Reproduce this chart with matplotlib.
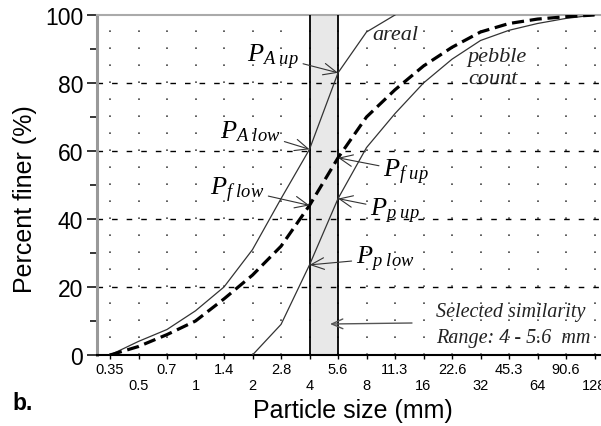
import numpy as np
import matplotlib
matplotlib.use("Agg")
import matplotlib.pyplot as plt

# Sieve sizes (mm) and their tick labels
sizes = [0.354, 0.5, 0.707, 1, 1.414, 2, 2.83, 4, 5.66, 8, 11.31, 16,
         22.63, 32, 45.25, 64, 90.51, 128]
size_labels = ["0.35", "0.5", "0.7", "1", "1.4", "2", "2.8", "4", "5.6", "8",
               "11.3", "16", "22.6", "32", "45.3", "64", "90.6", "128"]

# Areal sample (thin line)
areal_x = [0.354, 0.5, 0.707, 1, 1.414, 2, 2.83, 4, 5.66, 8, 11.31]
areal_y = [0, 4, 7.5, 13, 20, 31, 46, 60.5, 83, 95, 100]

# Combined / converted curve (thick dashed)
fine_x = sizes
fine_y = [0, 2.5, 6, 10, 16.5, 23.5, 32, 44, 58, 70, 78, 85, 90.5, 95,
          97.5, 98.8, 99.5, 100]

# Pebble count (thin line)
pebble_x = [2, 2.83, 4, 5.66, 8, 11.31, 16, 22.63, 32, 45.25, 64, 90.51, 128]
pebble_y = [0, 9, 26.5, 46, 61, 71, 80, 87, 92.5, 95.5, 97.5, 99, 100]

# Similarity range and reference levels
band = [4, 5.66]
hgrid_levels = [20, 40, 60, 80]


def px2x(px):
    # pixel column -> particle size on the log2 axis
    return 2 ** ((px - 110) / 57.0 - 1.5)


def px2y(py):
    return (356 - py) / 3.4


plt.rcParams["font.family"] = ["Liberation Sans", "DejaVu Sans"]
plt.rcParams["mathtext.fontset"] = "custom"
plt.rcParams["mathtext.it"] = "Liberation Serif:italic"
plt.rcParams["mathtext.rm"] = "Liberation Serif"

fig = plt.figure(figsize=(6.01, 4.27), dpi=100)
ax = fig.add_axes([97 / 601, 1 - 356 / 427, 1 - 97 / 601, 340 / 427])
ax.set_xscale("log", base=2)
ax.set_xlim(px2x(97), px2x(601))
ax.set_ylim(0, 100)

# Grey similarity band
ax.axvspan(band[0], band[1], color="#e8e8e8", zorder=0.5, lw=0)
for b in band:
    ax.axvline(b, color="black", lw=1.3, zorder=3)

# Grid: dotted verticals, dashed horizontals
ax.set_xticks(sizes)
ax.set_xticks([], minor=True)
ax.xaxis.grid(True, color="#444", lw=1.2, linestyle=(0, (1, 9.2)), zorder=1)
for lv in hgrid_levels:
    ax.axhline(lv, color="black", lw=1.0, linestyle=(0, (4, 6.5)), zorder=1)

# Curves
ax.plot(areal_x, areal_y, color="#333", lw=0.9, zorder=4)
ax.plot(pebble_x, pebble_y, color="#333", lw=0.9, zorder=4)
ax.plot(fine_x, fine_y, color="black", lw=2.3, dashes=(3.8, 1.8), zorder=4)

# Tick labels, alternating rows
labs = [s if i % 2 == 0 else "\n" + s for i, s in enumerate(size_labels)]
ax.set_xticklabels(labs, fontsize=10.5, va="top", linespacing=1.15)
ax.tick_params(axis="x", direction="out", length=3, width=1, pad=2)
ax.set_yticks([0, 20, 40, 60, 80, 100])
ax.set_yticks([10, 30, 50, 70, 90], minor=True)
ax.set_yticklabels(["0", "20", "40", "60", "80", "100"], fontsize=16.5)
ax.tick_params(axis="y", which="major", length=7, width=1.1, pad=3)
ax.tick_params(axis="y", which="minor", length=5, width=1.1)

# Spines
ax.spines["left"].set_color("#999")
ax.spines["left"].set_linewidth(2.2)
ax.spines["top"].set_color("#aaa")
ax.spines["top"].set_linewidth(1.5)
ax.spines["bottom"].set_color("black")
ax.spines["bottom"].set_linewidth(1.5)
ax.spines["right"].set_visible(False)

# Annotations with arrows
arrow = dict(arrowstyle="->,head_length=0.5,head_width=0.22", color="#333",
             lw=0.8, shrinkA=1, shrinkB=0)
notes = [
    (r"$P_{A\ up}$", (273, 57), (5.66, 83)),
    (r"$P_{A\ low}$", (250, 132), (4, 60.5)),
    (r"$P_{f\ low}$", (237, 190), (4, 44)),
    (r"$P_{f\ up}$", (406, 172), (5.66, 58)),
    (r"$P_{p\ up}$", (395, 211), (5.66, 46)),
    (r"$P_{p\ low}$", (385, 259), (4, 26.5)),
]
for txt, (tx, ty), xy in notes:
    ax.annotate(txt, xy=xy, xytext=(px2x(tx), px2y(ty)), fontsize=19,
                ha="center", va="center", arrowprops=arrow, zorder=5)

serif = dict(family="Liberation Serif", style="italic", color="#222")
ax.text(px2x(372), px2y(36), "areal", fontsize=16, ha="left", va="center", **serif)
ax.text(px2x(467), px2y(58), "pebble", fontsize=16, ha="left", va="center", **serif)
ax.text(px2x(468), px2y(80), "count", fontsize=16, ha="left", va="center", **serif)

ax.annotate("", xy=(px2x(330), px2y(325)), xytext=(px2x(412), px2y(324)),
            arrowprops=dict(arrowstyle="->,head_length=0.8,head_width=0.35",
                            color="#555", lw=1.0, shrinkA=0, shrinkB=0))
ax.text(px2x(436), px2y(313), "Selected similarity", fontsize=14.5,
        ha="left", va="center", **serif)
ax.text(px2x(436), px2y(338), "Range: 4 - 5.6  mm", fontsize=14.5,
        ha="left", va="center", **serif)

# Axis titles and panel letter
fig.text(25 / 601, 1 - 199 / 427, "Percent finer (%)", rotation=90,
         fontsize=18, ha="center", va="center")
fig.text(353 / 601, 1 - 411 / 427, "Particle size (mm)", fontsize=18,
         ha="center", va="center")
fig.text(23 / 601, 1 - 404 / 427, "b.", fontsize=16.5, fontweight="bold",
         ha="center", va="center")

fig.savefig("out.png", dpi=100)
